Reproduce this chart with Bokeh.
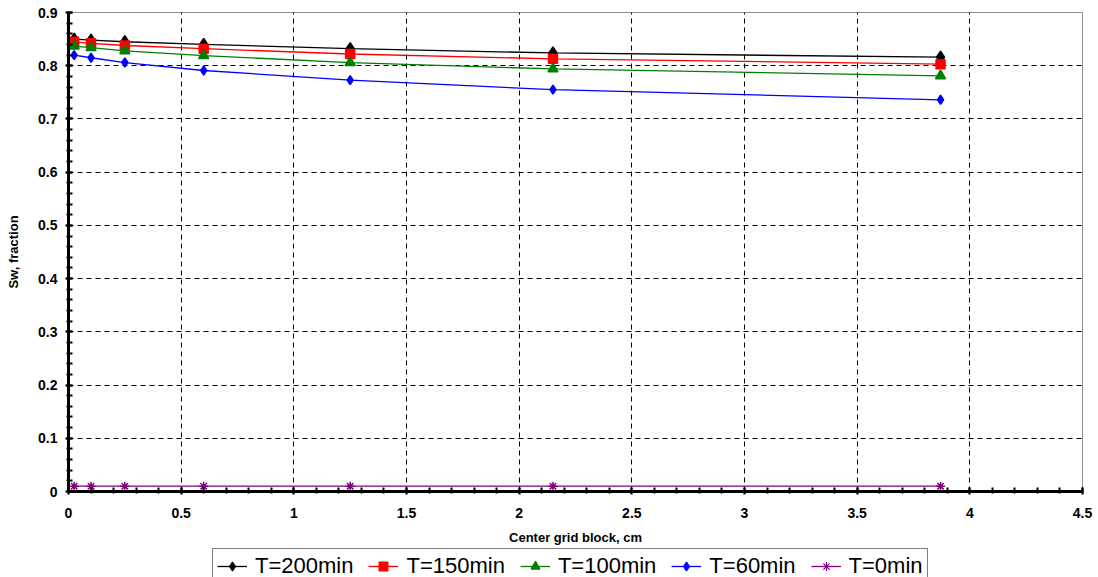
from bokeh.plotting import figure
from bokeh.embed import file_html
from bokeh.resources import INLINE
from bokeh.models import Legend, LegendItem, FixedTicker, Range1d
from bokeh.layouts import column

x_cm = [0.025, 0.1, 0.25, 0.6, 1.25, 2.15, 3.87]
sw_200 = [0.850, 0.848, 0.845, 0.840, 0.832, 0.824, 0.816]
sw_150 = [0.845, 0.842, 0.838, 0.832, 0.822, 0.813, 0.803]
sw_100 = [0.837, 0.834, 0.828, 0.819, 0.806, 0.794, 0.781]
sw_60 = [0.820, 0.815, 0.806, 0.791, 0.773, 0.755, 0.736]
sw_0 = [0.010, 0.010, 0.010, 0.010, 0.010, 0.010, 0.010]
labels = ["T=200min", "T=150min", "T=100min", "T=60min", "T=0min"]
x_ticks = [0, 0.5, 1, 1.5, 2, 2.5, 3, 3.5, 4, 4.5]
y_ticks = [0, 0.1, 0.2, 0.3, 0.4, 0.5, 0.6, 0.7, 0.8, 0.9]

FONT = "Liberation Sans"

p = figure(width=1098, height=548, output_backend="svg", toolbar_location=None,
           x_range=Range1d(0, 4.5), y_range=Range1d(0, 0.9),
           min_border_left=68, min_border_right=16, min_border_top=12, min_border_bottom=57)
p.background_fill_color = "white"
p.border_fill_color = "white"
p.outline_line_color = "#909090"
p.outline_line_width = 1

for ax in (p.xaxis[0], p.yaxis[0]):
    ax.axis_line_width = 3
    ax.axis_line_color = "black"
    ax.major_tick_in = 4
    ax.major_tick_out = 3
    ax.minor_tick_in = 4
    ax.minor_tick_out = 2
    ax.major_tick_line_width = 2
    ax.minor_tick_line_width = 2
    ax.major_label_text_font = FONT
    ax.major_label_text_font_style = "bold"
    ax.major_label_text_font_size = "14px"
    ax.major_label_text_color = "black"
    ax.axis_label_text_font = FONT
    ax.axis_label_text_font_style = "bold"
    ax.axis_label_text_font_size = "13px"
    ax.axis_label_text_color = "black"

p.xaxis[0].ticker = FixedTicker(ticks=x_ticks, minor_ticks=[round(i * 0.1, 2) for i in range(46)])
p.yaxis[0].ticker = FixedTicker(ticks=y_ticks, minor_ticks=[round(i * 0.02, 3) for i in range(46)])
p.xaxis.major_label_overrides = {0: "0", 1: "1", 2: "2", 3: "3", 4: "4"}
p.yaxis.major_label_overrides = {0: "0"}
p.xaxis.axis_label = "Center grid block, cm"
p.yaxis.axis_label = "Sw, fraction"
p.xaxis.major_label_standoff = 13
p.xaxis.axis_label_standoff = 9
p.yaxis.major_label_standoff = 8
p.yaxis.axis_label_standoff = 14

p.grid.grid_line_color = "black"
p.grid.grid_line_dash = "5 4"
p.grid.grid_line_width = 1

series = [
    (sw_200, "black", "diamond", 12),
    (sw_150, "red", "square", 9),
    (sw_100, "green", "triangle", 10),
    (sw_60, "blue", "diamond", 9),
    (sw_0, "purple", "asterisk", 9),
]
for ys, col, mk, sz in series:
    p.line(x_cm, ys, line_color=col, line_width=1.3)
    p.scatter(x_cm, ys, marker=mk, size=sz, fill_color=col, line_color=col, line_width=1.5)

# legend strip below the chart (its own small figure, data kept outside its view)
p2 = figure(width=1098, height=29, output_backend="svg", toolbar_location=None,
            x_range=Range1d(0, 1), y_range=Range1d(100, 101),
            min_border=0, x_axis_type=None, y_axis_type=None)
p2.outline_line_color = None
p2.grid.visible = False
p2.background_fill_color = "white"
p2.border_fill_color = "white"
leg_sizes = [9, 7, 8, 7, 8]
items = []
for (ys, col, mk, sz), lab, lsz in zip(series, labels, leg_sizes):
    r1 = p2.line(x_cm, ys, line_color=col, line_width=1.3)
    r2 = p2.scatter(x_cm, ys, marker=mk, size=lsz, fill_color=col, line_color=col, line_width=1.2)
    items.append(LegendItem(label=lab, renderers=[r1, r2]))

legend = Legend(items=items, orientation="horizontal", location=(144, -7),
                label_text_font=FONT, label_text_font_size="22px", label_text_color="black",
                border_line_color="black", border_line_width=1,
                background_fill_color="white", background_fill_alpha=1.0,
                padding=4, spacing=15, glyph_width=30, glyph_height=22,
                label_standoff=8, margin=0, label_height=22)
p2.add_layout(legend, "center")

open("out.html", "w").write(file_html(column(p, p2, spacing=0), INLINE))
